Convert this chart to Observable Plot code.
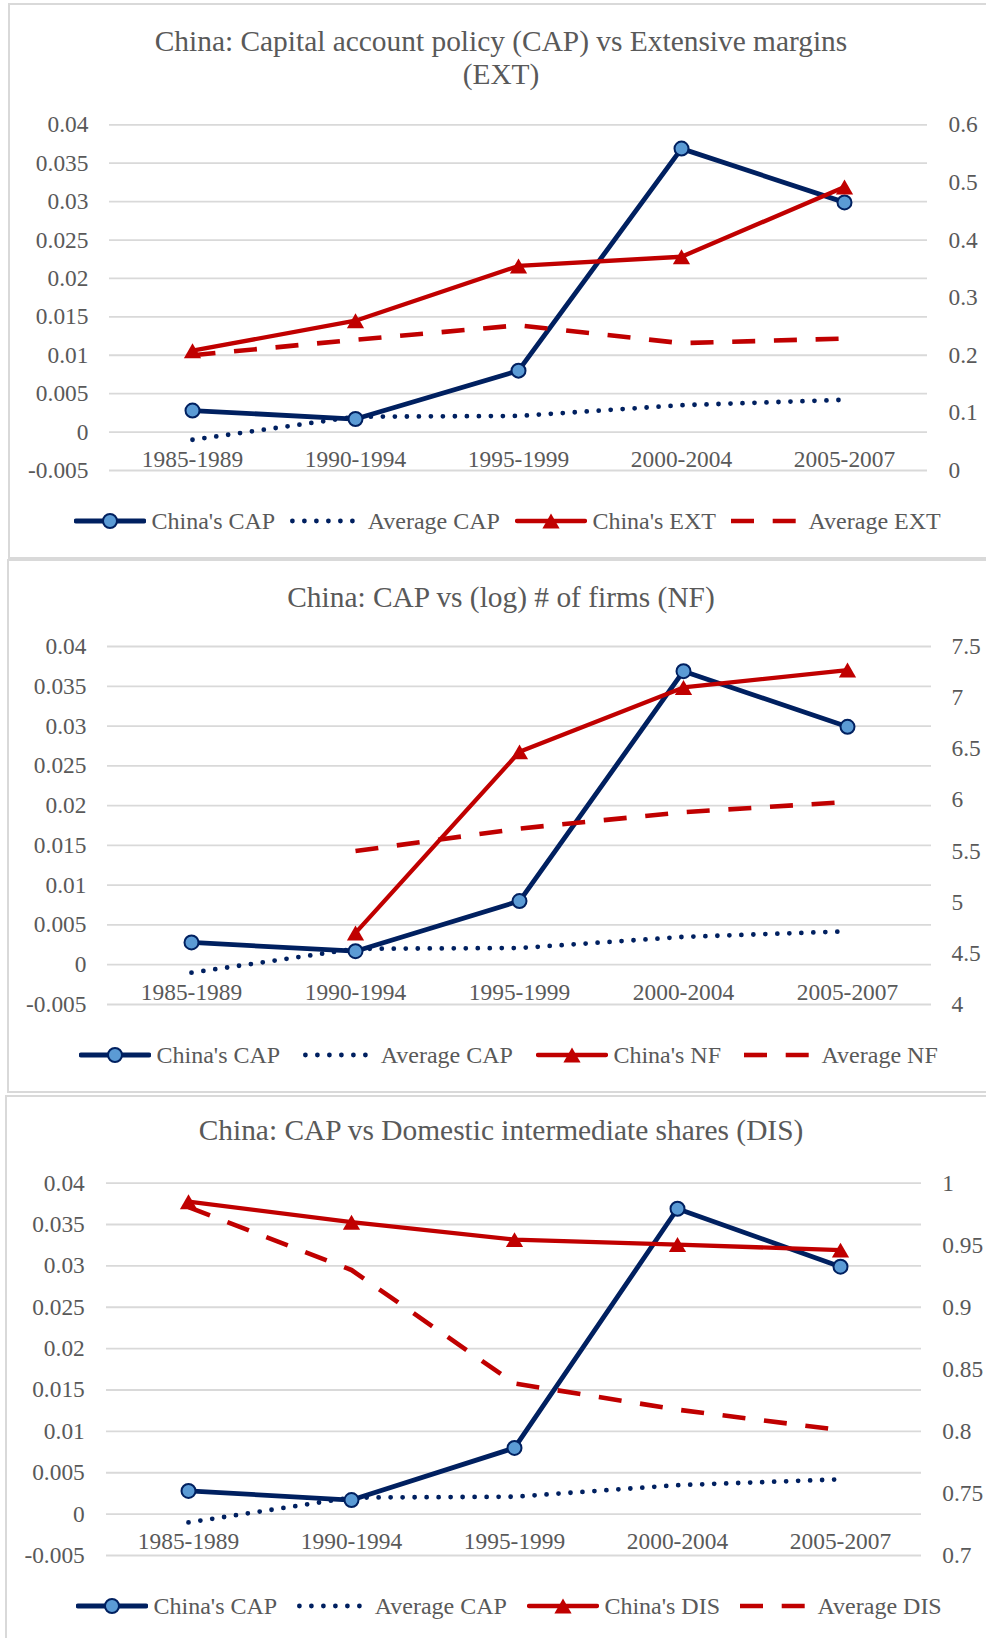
<!DOCTYPE html>
<html>
<head>
<meta charset="utf-8">
<script src="https://cdn.jsdelivr.net/npm/d3@7"></script>
<script src="https://cdn.jsdelivr.net/npm/@observablehq/plot@0.6"></script>
<style>
html, body { margin: 0; padding: 0; background: #fff; }
body { width: 986px; height: 1638px; position: relative; overflow: hidden; font-family: "Liberation Serif", "Times New Roman", serif; }
.panel { position: absolute; border: 2px solid #D9D9D9; box-sizing: border-box; }
.title { position: absolute; left: 0; width: 1002px; text-align: center; color: #595959; font-size: 29.4px; line-height: 33.4px; white-space: nowrap; }
.legend { position: absolute; display: flex; align-items: center; height: 30px; color: #595959; font-size: 24px; line-height: 30px; white-space: nowrap; }
.legend .item { display: flex; align-items: center; }
.legend svg { display: block; }
.legend span { margin-left: 5.5px; }
</style>
</head>
<body>
<div id="root"></div>
<script>
// ---------- data ----------
const periods = ["1985-1989", "1990-1994", "1995-1999", "2000-2004", "2005-2007"];

const chinaCAP   = [0.0028, 0.0017, 0.0080, 0.0369, 0.0299];
const averageCAP = [-0.0010, 0.0020, 0.0021, 0.0035, 0.0042];

const chinaEXT   = [0.208, 0.260, 0.355, 0.371, 0.492];
const averageEXT = [0.200, 0.227, 0.252, 0.221, 0.229];

const chinaNF    = [null, 4.70, 6.47, 7.10, 7.27];
const averageNF  = [null, 5.50, 5.72, 5.88, 5.98];

const chinaDIS   = [0.985, 0.9685, 0.9545, 0.9505, 0.946];
const averageDIS = [0.9806, 0.930, 0.8386, 0.8175, 0.801];

const capTicks      = [-0.005, 0, 0.005, 0.01, 0.015, 0.02, 0.025, 0.03, 0.035, 0.04];
const capTickLabels = ["-0.005", "0", "0.005", "0.01", "0.015", "0.02", "0.025", "0.03", "0.035", "0.04"];
const extTicks      = [0, 0.1, 0.2, 0.3, 0.4, 0.5, 0.6];
const extTickLabels = ["0", "0.1", "0.2", "0.3", "0.4", "0.5", "0.6"];
const nfTicks       = [4, 4.5, 5, 5.5, 6, 6.5, 7, 7.5];
const nfTickLabels  = ["4", "4.5", "5", "5.5", "6", "6.5", "7", "7.5"];
const disTicks      = [0.7, 0.75, 0.8, 0.85, 0.9, 0.95, 1];
const disTickLabels = ["0.7", "0.75", "0.8", "0.85", "0.9", "0.95", "1"];

const titles = [
  ["China: Capital account policy (CAP) vs Extensive margins", "(EXT)"],
  ["China: CAP vs (log) # of firms (NF)"],
  ["China: CAP vs Domestic intermediate shares (DIS)"]
];
const legendLabels = [
  ["China's CAP", "Average CAP", "China's EXT", "Average EXT"],
  ["China's CAP", "Average CAP", "China's NF", "Average NF"],
  ["China's CAP", "Average CAP", "China's DIS", "Average DIS"]
];

// ---------- styles ----------
const NAVY = "#002060", LIGHT = "#5B9BD5", RED = "#C00000", GRID = "#D9D9D9", TXT = "#595959";
const FONT = "Liberation Serif, Times New Roman, serif";
const TICK_FS = 23.4;

const panels = [
  { box: {left: 8, top: 3, height: 556}, titleTop: 25,
    svgTop: 100, height: 400, mt: 24.3, mb: 30, ml: 109, mr: 59, padL: 21, padR: 21, dyX: 27.3,
    right: chinaEXT, rightAvg: averageEXT, rDomain: [0, 0.6], rTicks: extTicks, rLabels: extTickLabels,
    legendTop: 505.5, legendLeft: 74, legendGap: 15 },
  { box: {left: 7, top: 559, height: 534}, titleTop: 581,
    svgTop: 622, height: 412, mt: 24, mb: 30, ml: 107, mr: 55, padL: 21, padR: 20, dyX: 28.2,
    right: chinaNF, rightAvg: averageNF, rDomain: [4, 7.5], rTicks: nfTicks, rLabels: nfTickLabels,
    legendTop: 1039.5, legendLeft: 79, legendGap: 23 },
  { box: {left: 5, top: 1095, height: 600}, titleTop: 1114,
    svgTop: 1158, height: 427, mt: 24.6, mb: 30, ml: 106, mr: 65, padL: 21.7, padR: 20.7, dyX: 27.6,
    right: chinaDIS, rightAvg: averageDIS, rDomain: [0.7, 1], rTicks: disTicks, rLabels: disTickLabels,
    legendTop: 1590.5, legendLeft: 76, legendGap: 20 }
];

const root = document.getElementById("root");

function swatch(kind) {
  const ns = "http://www.w3.org/2000/svg";
  const s = document.createElementNS(ns, "svg");
  s.setAttribute("width", 72); s.setAttribute("height", 30);
  const line = document.createElementNS(ns, "line");
  line.setAttribute("y1", 15); line.setAttribute("y2", 15);
  line.setAttribute("x1", kind === "dot" ? 2.4 : 2); line.setAttribute("x2", 70);
  if (kind === "cap") {
    line.setAttribute("stroke", NAVY); line.setAttribute("stroke-width", 4.8); line.setAttribute("stroke-linecap", "round");
  } else if (kind === "dot") {
    line.setAttribute("stroke", NAVY); line.setAttribute("stroke-width", 4.8);
    line.setAttribute("stroke-dasharray", "0,12"); line.setAttribute("stroke-linecap", "round");
  } else if (kind === "china") {
    line.setAttribute("stroke", RED); line.setAttribute("stroke-width", 4.3); line.setAttribute("stroke-linecap", "round");
  } else {
    line.setAttribute("x1", 0); line.setAttribute("x2", 72);
    line.setAttribute("stroke", RED); line.setAttribute("stroke-width", 4.6); line.setAttribute("stroke-dasharray", "23,18.7");
  }
  s.appendChild(line);
  if (kind === "cap") {
    const c = document.createElementNS(ns, "circle");
    c.setAttribute("cx", 36); c.setAttribute("cy", 15); c.setAttribute("r", 7);
    c.setAttribute("fill", LIGHT); c.setAttribute("stroke", NAVY); c.setAttribute("stroke-width", 2);
    s.appendChild(c);
  } else if (kind === "china") {
    const p = document.createElementNS(ns, "path");
    p.setAttribute("d", "M36,7.5L44.6,22.5L27.4,22.5Z");
    p.setAttribute("fill", RED);
    s.appendChild(p);
  }
  return s;
}

panels.forEach((P, k) => {
  // panel frame
  const box = document.createElement("div");
  box.className = "panel";
  Object.assign(box.style, {left: P.box.left + "px", top: P.box.top + "px", width: "990px", height: P.box.height + "px"});
  root.appendChild(box);

  // title
  const t = document.createElement("div");
  t.className = "title";
  t.style.top = P.titleTop + "px";
  t.innerHTML = titles[k].join("<br>");
  root.appendChild(t);

  const rows = periods.map((p, i) => ({
    period: p, cap: chinaCAP[i], avgCap: averageCAP[i], china: P.right[i], avg: P.rightAvg[i]
  }));
  const capMap = new Map(capTicks.map((d, i) => [d, capTickLabels[i]]));
  const rMap = new Map(P.rTicks.map((d, i) => [d, P.rLabels[i]]));

  const common = {
    width: 986, height: P.height,
    marginTop: P.mt, marginBottom: P.mb, marginLeft: P.ml, marginRight: P.mr,
    style: {background: "transparent", fontFamily: FONT, fontSize: TICK_FS + "px", color: TXT, overflow: "visible"},
    x: {type: "point", domain: periods, padding: 0.5, axis: null}
  };

  // primary (left) axis layer
  const left = Plot.plot({
    ...common,
    y: {domain: [-0.005, 0.04], axis: null},
    marks: [
      Plot.gridY(capTicks, {stroke: GRID, strokeOpacity: 1, strokeWidth: 1.8}),
      Plot.axisY(capTicks, {anchor: "left", tickSize: 0, tickPadding: P.padL, tickFormat: d => capMap.get(d), fill: TXT, fontSize: TICK_FS, fontFamily: FONT}),
      Plot.text(periods, {x: d => d, y: 0, dy: P.dyX, fill: TXT, fontSize: TICK_FS, fontFamily: FONT}),
      Plot.line(rows, {x: "period", y: "cap", stroke: NAVY, strokeWidth: 4.8, strokeLinejoin: "round"}),
      Plot.line(rows, {x: "period", y: "avgCap", stroke: NAVY, strokeWidth: 4.8, strokeDasharray: "0,12", strokeLinecap: "round"}),
      Plot.dot(rows, {x: "period", y: "cap", r: 7, fill: LIGHT, stroke: NAVY, strokeWidth: 2})
    ]
  });
  left.style.position = "absolute";
  left.style.top = P.svgTop + "px";
  left.style.left = "0px";
  root.appendChild(left);

  // secondary (right) axis layer
  const right = Plot.plot({
    ...common,
    y: {domain: P.rDomain, axis: null},
    marks: [
      Plot.axisY(P.rTicks, {anchor: "right", tickSize: 0, tickPadding: P.padR, tickFormat: d => rMap.get(d), fill: TXT, fontSize: TICK_FS, fontFamily: FONT, textAnchor: "start"}),
      Plot.line(rows, {x: "period", y: "china", stroke: RED, strokeWidth: 4.3, strokeLinejoin: "round"}),
      Plot.dot(rows, {x: "period", y: "china", symbol: "triangle", r: 6.4, dy: 2.5, fill: RED, stroke: "none"}),
      Plot.line(rows, {x: "period", y: "avg", stroke: RED, strokeWidth: 4.6, strokeDasharray: "23,18.7", strokeLinecap: "butt"})
    ]
  });
  right.style.position = "absolute";
  right.style.top = P.svgTop + "px";
  right.style.left = "0px";
  root.appendChild(right);

  // legend
  const lg = document.createElement("div");
  lg.className = "legend";
  lg.style.top = P.legendTop + "px";
  lg.style.left = P.legendLeft + "px";
  ["cap", "dot", "china", "dash"].forEach((kind, i) => {
    const it = document.createElement("div");
    it.className = "item";
    if (i > 0) it.style.marginLeft = P.legendGap + "px";
    it.appendChild(swatch(kind));
    const sp = document.createElement("span");
    sp.textContent = legendLabels[k][i];
    it.appendChild(sp);
    lg.appendChild(it);
  });
  root.appendChild(lg);
});
</script>
</body>
</html>
